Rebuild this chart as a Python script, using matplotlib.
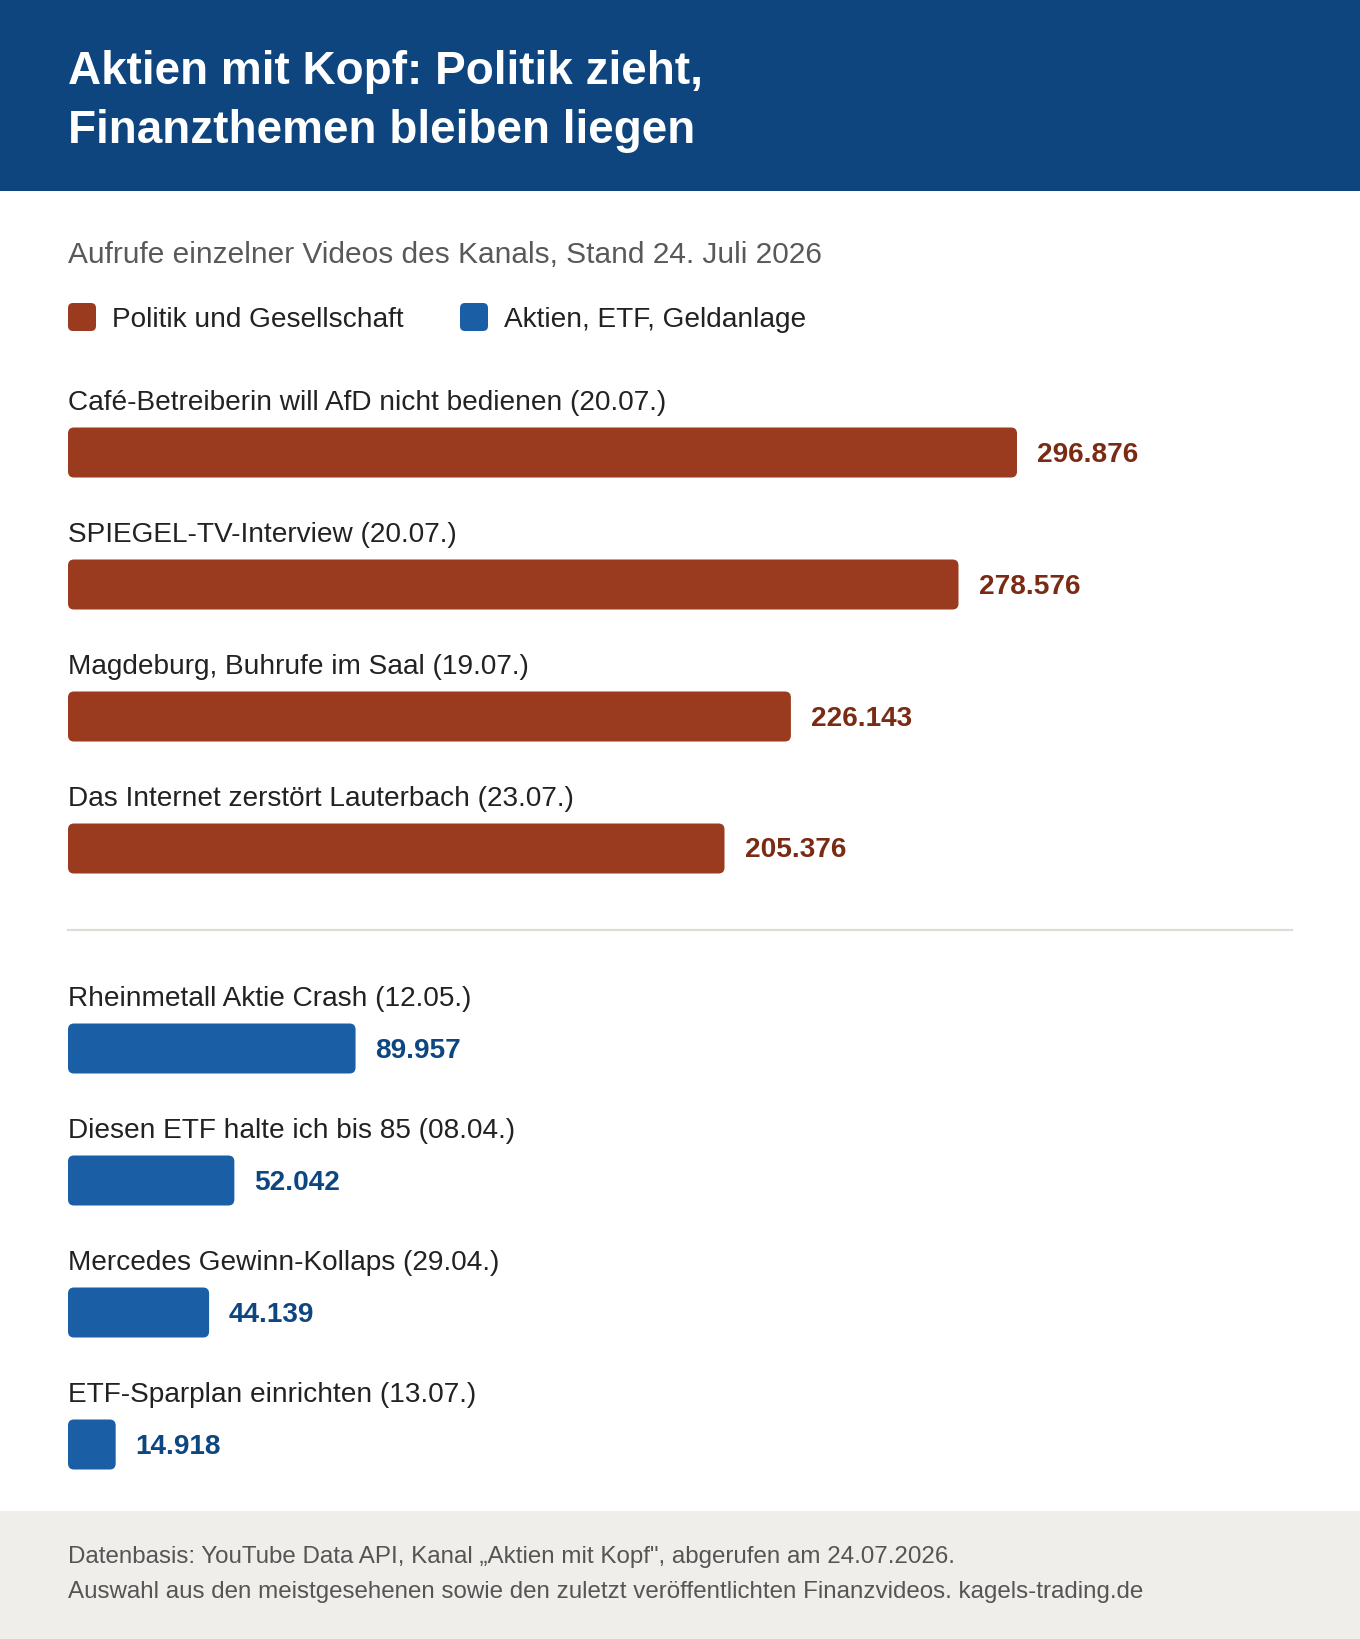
import matplotlib
matplotlib.use("Agg")
import matplotlib.pyplot as plt
from matplotlib.patches import FancyBboxPatch, Rectangle
from matplotlib.lines import Line2D

# ---------------- data ----------------
title_lines = ["Aktien mit Kopf: Politik zieht,", "Finanzthemen bleiben liegen"]
subtitle = "Aufrufe einzelner Videos des Kanals, Stand 24. Juli 2026"
legend_labels = ["Politik und Gesellschaft", "Aktien, ETF, Geldanlage"]

politik_titles = [
    "Café-Betreiberin will AfD nicht bedienen (20.07.)",
    "SPIEGEL-TV-Interview (20.07.)",
    "Magdeburg, Buhrufe im Saal (19.07.)",
    "Das Internet zerstört Lauterbach (23.07.)",
]
politik_views = [296876, 278576, 226143, 205376]

finanz_titles = [
    "Rheinmetall Aktie Crash (12.05.)",
    "Diesen ETF halte ich bis 85 (08.04.)",
    "Mercedes Gewinn-Kollaps (29.04.)",
    "ETF-Sparplan einrichten (13.07.)",
]
finanz_views = [89957, 52042, 44139, 14918]

footer_lines = [
    "Datenbasis: YouTube Data API, Kanal \u201eAktien mit Kopf\", abgerufen am 24.07.2026.",
    "Auswahl aus den meistgesehenen sowie den zuletzt veröffentlichten Finanzvideos. kagels-trading.de",
]

# ---------------- style ----------------
W, H = 1360, 1640
HEADER_BG = "#0e457e"
RED = "#9a3b1f"
BLUE = "#1a5ea6"
RED_TXT = "#7a2b14"
BLUE_TXT = "#0e4682"
LABEL_C = "#222222"
SUB_C = "#595959"
FOOT_BG = "#efeeea"
FOOT_C = "#555555"
FONT = ["Liberation Sans", "DejaVu Sans"]

plt.rcParams["font.family"] = FONT

fig = plt.figure(figsize=(W / 100, H / 100), dpi=100)
fig.patch.set_facecolor("white")
T = fig.dpi_scale_trans


def P(x, y):
    """pixel (top-left origin) -> inches for dpi_scale_trans"""
    return x / 100.0, (H - y) / 100.0


# header
x0, y0 = P(0, 192)
fig.add_artist(Rectangle((x0, y0), W / 100, 192 / 100, transform=T,
                         facecolor=HEADER_BG, edgecolor="none", zorder=0))
for i, line in enumerate(title_lines):
    fig.text(*P(68, 72 + i * 59), line, transform=T, color="white",
             fontsize=33, fontweight="bold", va="center", ha="left")

# subtitle
fig.text(*P(68, 255), subtitle, transform=T, color=SUB_C, fontsize=21.5,
         va="center", ha="left")

# legend
leg_x = [68, 460]
for lx, lab, col in zip(leg_x, legend_labels, [RED, BLUE]):
    sx, sy = P(lx, 332)
    fig.add_artist(FancyBboxPatch((sx, sy), 0.28, 0.28, transform=T,
                                  boxstyle="round,pad=0,rounding_size=0.05",
                                  facecolor=col, edgecolor="none"))
    fig.text(*P(lx + 44, 320), lab, transform=T, color=LABEL_C, fontsize=20.2,
             va="center", ha="left")

# footer
fx, fy = P(0, H)
fig.add_artist(Rectangle((fx, fy), W / 100, (H - 1512) / 100, transform=T,
                         facecolor=FOOT_BG, edgecolor="none", zorder=0))
for i, line in enumerate(footer_lines):
    fig.text(*P(68, 1557 + i * 35), line, transform=T, color=FOOT_C,
             fontsize=17.4, va="center", ha="left")

# divider
dx1, dy = P(68, 931)
dx2, _ = P(1292, 931)
fig.add_artist(Line2D([dx1, dx2], [dy, dy], transform=T, color="#dddcd7", lw=1.6))

# ---------------- bars axes ----------------
ax_left, ax_right, ax_top, ax_bot = 68, 1292, 360, 1500
ax = fig.add_axes([ax_left / W, 1 - ax_bot / H, (ax_right - ax_left) / W,
                   (ax_bot - ax_top) / H])
ax.set_axis_off()

row_px = 132.0
gap = 68.0 / row_px
ypos = [0, 1, 2, 3] + [3 + 1 + gap + i for i in range(4)]
titles = politik_titles + finanz_titles
values = politik_views + finanz_views
colors = [RED] * 4 + [BLUE] * 4
txtcols = [RED_TXT] * 4 + [BLUE_TXT] * 4

full_px = 949.0  # pixel length of the largest bar
xmax = max(values) * (ax_right - ax_left) / full_px
top_off = (453.5 - ax_top) / row_px
ymin = -top_off
ymax = ymin + (ax_bot - ax_top) / row_px
ax.set_xlim(0, xmax)
ax.set_ylim(ymax, ymin)

xupp = xmax / (ax_right - ax_left)
yupp = (ymax - ymin) / (ax_bot - ax_top)
bar_h = 50.0 / row_px
radius = 6.0

for y, v, c, tc, t in zip(ypos, values, colors, txtcols, titles):
    p = FancyBboxPatch((0, y - bar_h / 2), v, bar_h,
                       boxstyle=f"round,pad=0,rounding_size={radius * xupp}",
                       mutation_aspect=yupp / xupp,
                       facecolor=c, edgecolor="none")
    ax.add_patch(p)
    ax.annotate(f"{v:,}".replace(",", "."), xy=(v, y), xytext=(20 * 0.72, -1 * 0.72),
                textcoords="offset points", va="center", ha="left",
                fontsize=20.2, fontweight="bold", color=tc)
    ax.annotate(t, xy=(0, y), xytext=(0, 50 * 0.72), textcoords="offset points",
                va="center", ha="left", fontsize=20.2, color=LABEL_C)

fig.savefig("out.png", dpi=100, facecolor=fig.get_facecolor())
